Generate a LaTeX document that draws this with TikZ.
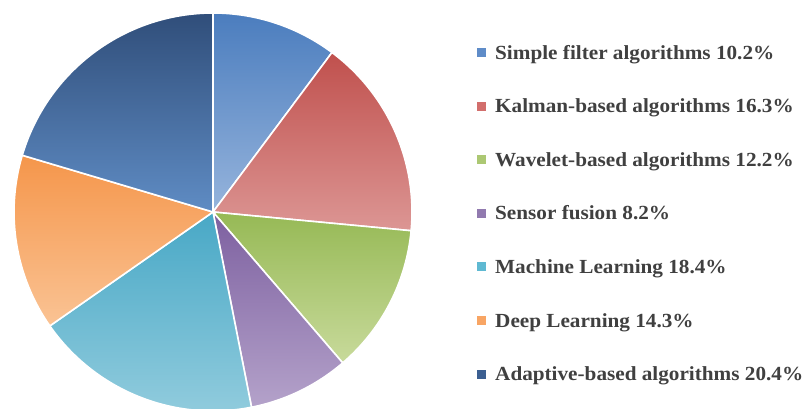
\documentclass[tikz,border=0pt]{standalone}
\usepackage{fontspec}
\setmainfont{Liberation Serif}
\newfontfamily\keyfont[FakeStretch=1.06]{Liberation Serif}
\begin{document}
\begin{tikzpicture}[x=1pt,y=1pt,
  slice/.style={draw=white,line width=1.6pt,line join=round},
  keybox/.style={minimum size=9pt,inner sep=0pt,draw=none},
  keytext/.style={anchor=base west,inner sep=0pt,text=black!75,
    font=\keyfont\fontsize{20}{22}\selectfont\bfseries}]
\useasboundingbox (0,0) rectangle (805,409);
\fill[white] (0,0) rectangle (805,409);

% pie centre and radius
\coordinate (c) at (213,197);
\def\R{199}

% slices, clockwise from twelve o'clock
\path[slice,top color={rgb,255:red,75;green,125;blue,190},bottom color={rgb,255:red,150;green,180;blue,220}]
  (c) -- ++(90:\R) arc[start angle=90,end angle=53.28,radius=\R] -- cycle;
\path[slice,top color={rgb,255:red,192;green,80;blue,77},bottom color={rgb,255:red,220;green,150;blue,148}]
  (c) -- ++(53.28:\R) arc[start angle=53.28,end angle=-5.4,radius=\R] -- cycle;
\path[slice,top color={rgb,255:red,150;green,185;blue,85},bottom color={rgb,255:red,200;green,218;blue,155}]
  (c) -- ++(-5.4:\R) arc[start angle=-5.4,end angle=-49.32,radius=\R] -- cycle;
\path[slice,top color={rgb,255:red,125;green,96;blue,160},bottom color={rgb,255:red,180;green,162;blue,202}]
  (c) -- ++(-49.32:\R) arc[start angle=-49.32,end angle=-78.84,radius=\R] -- cycle;
\path[slice,top color={rgb,255:red,72;green,168;blue,198},bottom color={rgb,255:red,148;green,205;blue,222}]
  (c) -- ++(-78.84:\R) arc[start angle=-78.84,end angle=-145.08,radius=\R] -- cycle;
\path[slice,top color={rgb,255:red,245;green,150;blue,75},bottom color={rgb,255:red,250;green,195;blue,148}]
  (c) -- ++(-145.08:\R) arc[start angle=-145.08,end angle=-196.56,radius=\R] -- cycle;
\path[slice,top color={rgb,255:red,48;green,78;blue,122},bottom color={rgb,255:red,95;green,140;blue,196}]
  (c) -- ++(-196.56:\R) arc[start angle=-196.56,end angle=-270,radius=\R] -- cycle;

% legend
\node[keybox,fill={rgb,255:red,95;green,140;blue,200}] (k1) at (481,356.5) {};
\node[keybox,fill={rgb,255:red,210;green,110;blue,108}] (k2) at (481,302.9) {};
\node[keybox,fill={rgb,255:red,172;green,200;blue,115}] (k3) at (481,249.3) {};
\node[keybox,fill={rgb,255:red,145;green,122;blue,175}] (k4) at (481,195.7) {};
\node[keybox,fill={rgb,255:red,95;green,185;blue,210}] (k5) at (481,142.1) {};
\node[keybox,fill={rgb,255:red,248;green,165;blue,100}] (k6) at (481,88.5) {};
\node[keybox,fill={rgb,255:red,60;green,95;blue,145}] (k7) at (481,34.9) {};

\node[keytext] (t1) at (495,349.8) {Simple filter algorithms 10.2\%};
\node[keytext] (t2) at (495,296.2) {Kalman-based algorithms 16.3\%};
\node[keytext] (t3) at (495,242.6) {Wavelet-based algorithms 12.2\%};
\node[keytext] (t4) at (495,189.0) {Sensor fusion 8.2\%};
\node[keytext] (t5) at (495,135.4) {Machine Learning 18.4\%};
\node[keytext] (t6) at (495,81.8) {Deep Learning 14.3\%};
\node[keytext] (t7) at (495,28.2) {Adaptive-based algorithms 20.4\%};
\end{tikzpicture}
\end{document}
